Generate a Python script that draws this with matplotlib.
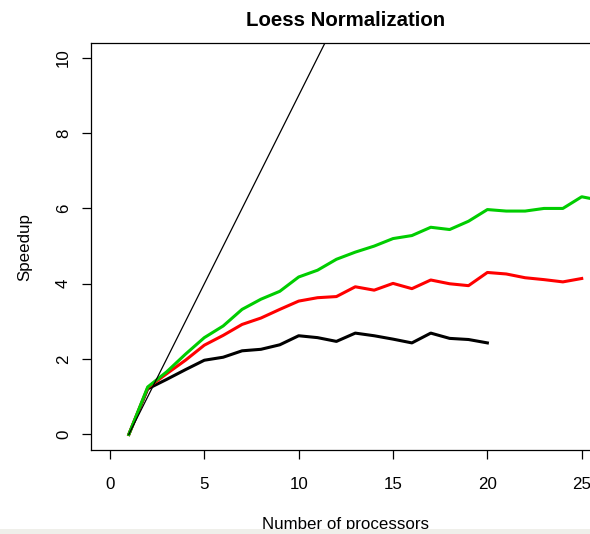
import matplotlib
matplotlib.use("Agg")
import matplotlib.pyplot as plt
from matplotlib.patches import Rectangle

plt.rcParams['font.family'] = ['Liberation Sans', 'DejaVu Sans']

# Data
ideal_x = [1, 50]
ideal_y = [0, 49]

black_x = list(range(1, 21))
black_y = [0, 1.21, 1.46, 1.72, 1.97, 2.05, 2.22, 2.26, 2.38, 2.62,
           2.57, 2.47, 2.69, 2.62, 2.53, 2.43, 2.69, 2.55, 2.52, 2.43]

red_x = list(range(1, 26))
red_y = [0, 1.24, 1.61, 1.97, 2.37, 2.63, 2.92, 3.09, 3.32, 3.54,
         3.63, 3.66, 3.92, 3.83, 4.01, 3.87, 4.10, 4.00, 3.95, 4.30,
         4.26, 4.16, 4.11, 4.05, 4.14]

green_x = list(range(1, 27))
green_y = [0, 1.26, 1.66, 2.13, 2.57, 2.88, 3.32, 3.59, 3.80, 4.18,
           4.36, 4.65, 4.84, 5.00, 5.20, 5.28, 5.50, 5.44, 5.66, 5.97,
           5.93, 5.93, 6.00, 6.00, 6.31, 6.21]

xticks = [0, 5, 10, 15, 20, 25]
yticks = [0, 2, 4, 6, 8, 10]
title = "Loess Normalization"
xlabel = "Number of processors"
ylabel = "Speedup"

W, H = 590, 534
fig = plt.figure(figsize=(W / 100, H / 100), dpi=100)
left_px, right_px = 91.1, 600.6
top_px, bot_px = 42.7, 449.5
ax = fig.add_axes([left_px / W, 1 - bot_px / H, (right_px - left_px) / W, (bot_px - top_px) / H])
ax.set_xlim(-1, 26)
ax.set_ylim(-0.4, 10.4)

ax.plot(black_x, black_y, color='black', lw=2.2, solid_joinstyle='round', zorder=3)
ax.plot(red_x, red_y, color='#FF0000', lw=2.2, solid_joinstyle='round', zorder=4)
ax.plot(green_x, green_y, color='#00CD00', lw=2.2, solid_joinstyle='round', zorder=5)
ax.plot(ideal_x, ideal_y, color='black', lw=0.9, zorder=6)

for s in ax.spines.values():
    s.set_linewidth(0.9)
    s.set_color('black')

ax.set_xticks(xticks)
ax.set_xticklabels([str(t) for t in xticks])
ax.set_yticks(yticks)
ax.set_yticklabels([str(t) for t in yticks], rotation=90, va='center')
ax.tick_params(axis='x', direction='out', length=6.5, width=0.9, pad=13, labelsize=12.2)
ax.tick_params(axis='y', direction='out', length=6.5, width=0.9, pad=8, labelsize=12.2)

fig.text(346 / W, 1 - 20 / H, title, ha='center', va='center', fontsize=14.7, fontweight='bold')
fig.text(25 / W, 1 - 247 / H, ylabel, ha='center', va='center', rotation=90, fontsize=12.2)
fig.text(346 / W, (H - 529.5) / H, xlabel, ha='center', va='baseline', fontsize=12.2)

fig.add_artist(Rectangle((0, 0), 1, 5.3 / H, transform=fig.transFigure,
                         facecolor='#EFEFEA', edgecolor='none', zorder=100))

fig.savefig('out.png', dpi=100)
